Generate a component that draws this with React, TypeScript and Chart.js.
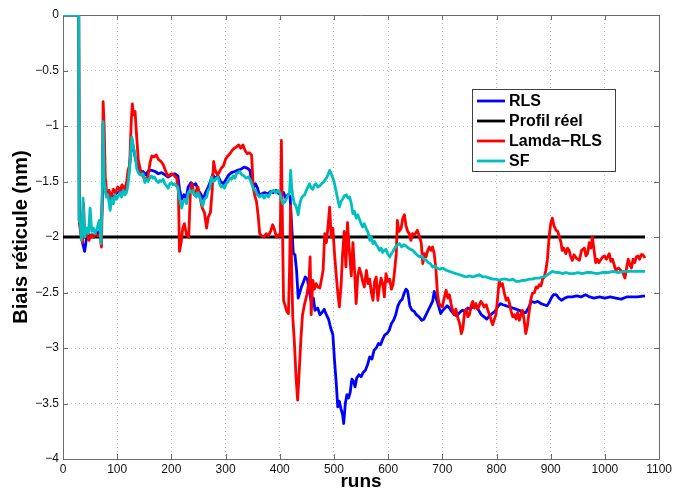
import React, { useEffect, useRef } from 'react';
import { Chart, registerables } from 'chart.js';

Chart.register(...registerables);

// ---- Data ----
const seriesLabels = ['RLS', 'Profil réel', 'Lamda\u2212RLS', 'SF'];
const seriesColors = ['#0000ff', '#000000', '#ff0000', '#00bfbf'];

const xTickValues = [0, 100, 200, 300, 400, 500, 600, 700, 800, 900, 1000, 1100];
const yTickValues = [0, -0.5, -1, -1.5, -2, -2.5, -3, -3.5, -4];

const rlsRuns = [
  0, 29, 30, 33, 36, 40, 43, 46, 50, 54, 58, 62, 66, 70, 73, 74, 76, 80, 84, 87, 90, 94, 98, 103, 108, 113, 118, 121, 124, 127,
  130, 133, 137, 142, 148, 153, 158, 164, 170, 176, 182, 188, 194, 200, 206, 212, 215, 219, 223, 227, 231, 236, 240, 245, 250,
  255, 259, 263, 268, 272, 276, 281, 286, 291, 296, 301, 306, 311, 317, 322, 328, 334, 340, 345, 348, 352, 355, 359, 362, 367,
  372, 378, 383, 388, 393, 398, 403, 407, 411, 415, 419, 422, 425, 428, 431, 434, 437, 440, 444, 447, 451, 455, 458, 462, 465,
  470, 474, 478, 482, 486, 490, 494, 498, 501, 504, 507, 510, 513, 516, 518, 521, 524, 527, 530, 533, 536, 539, 542, 546, 550,
  554, 558, 562, 566, 570, 574, 578, 582, 586, 590, 594, 598, 602, 606, 610, 614, 618, 622, 626, 630, 633, 636, 640, 644, 648,
  652, 657, 662, 666, 670, 674, 678, 682, 685, 689, 693, 697, 701, 705, 709, 713, 717, 722, 727, 732, 737, 742, 747, 752, 757,
  762, 767, 772, 777, 782, 787, 792, 797, 802, 807, 812, 818, 824, 830, 836, 842, 848, 854, 860, 864, 870, 876, 882, 888, 893,
  897, 901, 905, 910, 915, 920, 926, 932, 940, 948, 956, 964, 972, 980, 990, 1000, 1010, 1020, 1030, 1040, 1050, 1060, 1074,
];
const rlsValues = [
  0, 0, -1.85, -1.95, -2.05, -2.13, -2.02, -1.96, -2.0, -1.98, -2.0, -1.97, -1.95, -2.02, -1.6, -0.98, -1.5, -1.62, -1.6, -1.7,
  -1.62, -1.65, -1.6, -1.6, -1.57, -1.58, -1.52, -1.45, -1.3, -1.12, -1.2, -1.28, -1.36, -1.42, -1.41, -1.44, -1.4, -1.4, -1.41,
  -1.43, -1.42, -1.44, -1.46, -1.44, -1.43, -1.45, -1.57, -1.66, -1.62, -1.65, -1.55, -1.51, -1.53, -1.52, -1.58, -1.62, -1.66,
  -1.6, -1.55, -1.5, -1.44, -1.47, -1.45, -1.5, -1.52, -1.48, -1.44, -1.42, -1.41, -1.4, -1.39, -1.37, -1.38, -1.4, -1.5, -1.55,
  -1.52, -1.56, -1.62, -1.61, -1.6, -1.61, -1.59, -1.6, -1.58, -1.61, -1.62, -1.6, -1.65, -1.62, -1.63, -1.9, -2.15, -2.16, -2.3,
  -2.55, -2.5, -2.45, -2.4, -2.36, -2.38, -2.5, -2.58, -2.55, -2.66, -2.64, -2.7, -2.68, -2.65, -2.7, -2.74, -2.82, -2.88, -3.11,
  -3.3, -3.53, -3.48, -3.55, -3.6, -3.68, -3.5, -3.42, -3.45, -3.4, -3.28, -3.3, -3.35, -3.27, -3.24, -3.26, -3.22, -3.2, -3.15,
  -3.08, -3.1, -3.02, -3.0, -2.96, -2.97, -2.92, -2.88, -2.87, -2.84, -2.78, -2.75, -2.7, -2.62, -2.58, -2.56, -2.5, -2.47, -2.49,
  -2.62, -2.66, -2.67, -2.7, -2.72, -2.75, -2.74, -2.7, -2.66, -2.62, -2.58, -2.49, -2.56, -2.62, -2.69, -2.66, -2.64, -2.62,
  -2.64, -2.67, -2.7, -2.71, -2.68, -2.66, -2.67, -2.64, -2.65, -2.62, -2.62, -2.66, -2.7, -2.72, -2.74, -2.71, -2.69, -2.67,
  -2.63, -2.6, -2.61, -2.62, -2.63, -2.64, -2.65, -2.66, -2.68, -2.68, -2.63, -2.58, -2.59, -2.58, -2.6, -2.61, -2.62, -2.59,
  -2.55, -2.52, -2.52, -2.55, -2.57, -2.55, -2.54, -2.54, -2.53, -2.54, -2.52, -2.54, -2.55, -2.54, -2.55, -2.54, -2.55, -2.56,
  -2.54, -2.54, -2.54, -2.53,
];

const profilRuns = [0, 1074];
const profilValues = [-2, -2];

const lamdaRuns = [
  0, 29, 30, 33, 36, 38, 40, 44, 48, 52, 56, 60, 64, 68, 71, 73, 74, 76, 78, 81, 85, 89, 93, 97, 101, 105, 109, 113, 117, 120,
  123, 126, 128, 130, 133, 136, 139, 143, 148, 153, 157, 161, 164, 168, 172, 176, 181, 185, 189, 193, 197, 201, 206, 210, 213,
  215, 218, 221, 224, 228, 232, 235, 238, 242, 246, 249, 253, 257, 261, 265, 268, 272, 275, 278, 281, 285, 288, 292, 296, 300,
  304, 308, 312, 316, 320, 324, 328, 332, 336, 340, 344, 348, 351, 354, 357, 360, 363, 367, 371, 375, 379, 383, 387, 390, 394,
  398, 401, 403, 405, 407, 410, 413, 416, 418, 420, 422, 424, 427, 430, 433, 436, 439, 442, 446, 450, 454, 456, 458, 461, 464,
  467, 470, 474, 477, 480, 483, 486, 489, 492, 495, 498, 501, 504, 507, 510, 513, 516, 519, 522, 525, 528, 532, 535, 538, 541,
  544, 547, 550, 553, 556, 560, 563, 566, 569, 572, 575, 578, 581, 584, 587, 590, 593, 596, 599, 603, 606, 609, 612, 615, 617,
  620, 624, 627, 630, 633, 636, 639, 642, 645, 649, 654, 658, 661, 664, 667, 670, 673, 676, 679, 682, 685, 688, 691, 694, 697,
  700, 703, 707, 710, 713, 716, 719, 722, 725, 728, 732, 735, 738, 741, 744, 747, 750, 753, 756, 759, 762, 765, 768, 771, 774,
  777, 781, 784, 787, 790, 793, 796, 799, 802, 805, 808, 811, 814, 818, 821, 824, 827, 830, 833, 836, 839, 842, 845, 848, 851,
  854, 857, 860, 863, 866, 870, 873, 876, 879, 882, 885, 888, 891, 894, 897, 900, 903, 906, 910, 913, 916, 919, 921, 924, 928,
  931, 934, 937, 940, 943, 947, 950, 953, 957, 962, 965, 968, 971, 974, 977, 980, 983, 986, 989, 993, 996, 999, 1003, 1008,
  1011, 1014, 1017, 1020, 1025, 1029, 1033, 1037, 1040, 1043, 1046, 1049, 1052, 1055, 1058, 1061, 1064, 1067, 1070, 1074,
];
const lamdaValues = [
  0, 0, -1.85, -1.98, -2.05, -1.7, -2.0, -1.98, -2.03, -1.98, -2.0, -1.97, -1.99, -1.98, -2.09, -1.5, -0.78, -1.0, -1.46, -1.62,
  -1.58, -1.64, -1.57, -1.6, -1.55, -1.58, -1.53, -1.57, -1.52, -1.4, -1.35, -0.95, -0.8, -0.9, -0.87, -1.1, -1.31, -1.4, -1.46,
  -1.48, -1.45, -1.32, -1.27, -1.28, -1.26, -1.3, -1.32, -1.35, -1.4, -1.45, -1.44, -1.43, -1.45, -1.47, -1.6, -2.13, -2.05,
  -1.92, -1.88, -1.98, -2.0, -1.6, -1.52, -1.62, -1.58, -1.55, -1.65, -1.74, -1.78, -1.92, -1.82, -1.78, -1.6, -1.32, -1.4,
  -1.44, -1.42, -1.38, -1.36, -1.3, -1.27, -1.25, -1.22, -1.2, -1.19, -1.17, -1.2, -1.17, -1.22, -1.25, -1.24, -1.26, -1.55,
  -1.63, -1.68, -1.8, -1.97, -1.99, -2.0, -1.97, -1.99, -1.95, -1.89, -1.93, -2.0, -1.98, -1.99, -1.13, -1.9, -2.57, -2.62,
  -2.67, -2.69, -2.3, -1.72, -2.3, -2.72, -2.95, -3.26, -3.47, -3.2, -2.92, -2.7, -2.6, -2.52, -2.4, -2.18, -2.7, -2.39, -2.47,
  -2.42, -2.45, -2.46, -2.38, -2.3, -1.97, -2.05, -1.91, -1.73, -2.0, -1.92, -2.15, -2.33, -2.5, -2.63, -2.45, -2.15, -1.95,
  -2.27, -1.87, -2.1, -2.35, -2.05, -2.3, -2.6, -2.35, -2.28, -2.33, -2.4, -2.45, -2.3, -2.42, -2.38, -2.5, -2.57, -2.4, -2.36,
  -2.57, -2.45, -2.37, -2.42, -2.54, -2.33, -2.4, -2.38, -2.47, -2.43, -2.3, -2.15, -1.85, -1.95, -1.92, -1.83, -1.8, -1.9,
  -1.95, -1.97, -2.03, -1.97, -1.98, -1.94, -2.0, -2.05, -2.24, -2.15, -2.18, -2.12, -2.09, -2.12, -2.09, -2.15, -2.28, -2.51,
  -2.6, -2.62, -2.63, -2.56, -2.48, -2.55, -2.52, -2.6, -2.66, -2.7, -2.65, -2.72, -2.78, -2.87, -2.82, -2.68, -2.65, -2.72,
  -2.7, -2.62, -2.58, -2.64, -2.6, -2.65, -2.62, -2.58, -2.6, -2.63, -2.61, -2.66, -2.7, -2.75, -2.79, -2.74, -2.7, -2.55,
  -2.39, -2.44, -2.42, -2.5, -2.57, -2.55, -2.6, -2.67, -2.72, -2.7, -2.74, -2.68, -2.75, -2.7, -2.66, -2.75, -2.87, -2.8,
  -2.68, -2.57, -2.51, -2.5, -2.45, -2.46, -2.43, -2.44, -2.38, -2.36, -2.3, -2.2, -2.0, -1.88, -1.83, -1.9, -1.94, -1.95, -2.0,
  -2.05, -2.12, -2.1, -2.15, -2.1, -2.12, -2.18, -2.21, -2.16, -2.19, -2.2, -2.21, -2.12, -2.1, -2.17, -2.15, -2.05, -2.1, -2.0,
  -2.12, -2.23, -2.2, -2.23, -2.2, -2.18, -2.17, -2.2, -2.15, -2.22, -2.2, -2.25, -2.3, -2.28, -2.3, -2.32, -2.37, -2.28, -2.2,
  -2.25, -2.28, -2.2, -2.23, -2.18, -2.17, -2.2, -2.16, -2.16, -2.19,
];

const sfRuns = [
  0, 29, 30, 32, 34, 37, 40, 44, 47, 50, 53, 56, 59, 63, 67, 70, 72, 74, 76, 80, 83, 87, 90, 93, 96, 99, 102, 105, 108, 111, 114,
  117, 120, 123, 127, 130, 133, 136, 139, 142, 148, 151, 154, 157, 160, 163, 166, 169, 172, 176, 179, 182, 185, 188, 191, 194,
  197, 200, 203, 206, 209, 212, 215, 219, 222, 225, 228, 231, 234, 237, 240, 243, 246, 249, 252, 255, 258, 261, 265, 268, 271,
  274, 277, 280, 283, 286, 289, 292, 295, 298, 301, 305, 308, 311, 314, 317, 320, 323, 326, 330, 334, 338, 342, 345, 348, 351,
  355, 359, 363, 367, 371, 375, 379, 383, 388, 393, 397, 400, 403, 406, 410, 413, 416, 418, 420, 422, 424, 427, 430, 434, 437,
  440, 443, 446, 449, 452, 455, 458, 461, 464, 467, 470, 474, 477, 480, 483, 486, 489, 492, 495, 498, 501, 504, 507, 510, 513,
  516, 519, 523, 526, 529, 532, 535, 538, 541, 544, 547, 550, 553, 556, 560, 563, 566, 569, 572, 575, 578, 581, 584, 587, 590,
  593, 596, 599, 603, 606, 609, 612, 615, 618, 621, 625, 629, 633, 637, 641, 645, 649, 653, 658, 662, 666, 670, 674, 678, 682,
  686, 690, 695, 700, 707, 713, 719, 725, 732, 738, 744, 750, 756, 762, 768, 775, 781, 787, 793, 799, 805, 811, 818, 824, 830,
  836, 842, 848, 854, 860, 866, 872, 879, 885, 891, 897, 903, 910, 916, 922, 928, 935, 942, 950, 958, 966, 975, 985, 995, 1005,
  1015, 1025, 1035, 1045, 1055, 1065, 1074,
];
const sfValues = [
  0, 0, -1.85, -1.88, -2.03, -1.65, -2.0, -1.92, -1.97, -1.74, -1.95, -1.92, -1.97, -1.92, -1.85, -2.06, -1.7, -0.96, -1.5,
  -1.64, -1.62, -1.76, -1.65, -1.7, -1.62, -1.66, -1.63, -1.6, -1.64, -1.58, -1.62, -1.6, -1.53, -1.37, -1.1, -1.19, -1.26,
  -1.38, -1.42, -1.44, -1.43, -1.51, -1.48, -1.5, -1.47, -1.45, -1.47, -1.46, -1.49, -1.51, -1.49, -1.5, -1.48, -1.52, -1.54,
  -1.56, -1.52, -1.51, -1.53, -1.52, -1.54, -1.55, -1.65, -1.74, -1.68, -1.66, -1.7, -1.6, -1.58, -1.6, -1.58, -1.62, -1.64,
  -1.6, -1.63, -1.68, -1.72, -1.66, -1.64, -1.58, -1.56, -1.46, -1.5, -1.49, -1.47, -1.46, -1.52, -1.55, -1.54, -1.56, -1.52,
  -1.5, -1.47, -1.48, -1.45, -1.47, -1.43, -1.42, -1.41, -1.44, -1.45, -1.47, -1.46, -1.48, -1.52, -1.56, -1.58, -1.62, -1.64,
  -1.62, -1.65, -1.62, -1.64, -1.6, -1.58, -1.6, -1.58, -1.6, -1.66, -1.7, -1.68, -1.65, -1.62, -1.6, -1.4, -1.55, -1.63, -1.7,
  -1.72, -1.8, -1.7, -1.65, -1.63, -1.62, -1.58, -1.55, -1.52, -1.56, -1.57, -1.53, -1.52, -1.55, -1.54, -1.52, -1.51, -1.49,
  -1.47, -1.44, -1.4, -1.43, -1.47, -1.52, -1.59, -1.66, -1.73, -1.68, -1.66, -1.63, -1.62, -1.65, -1.64, -1.7, -1.79, -1.77,
  -1.83, -1.8, -1.84, -1.88, -1.91, -1.88, -1.93, -1.96, -2.03, -2.0, -2.06, -2.04, -2.07, -2.09, -2.12, -2.1, -2.14, -2.12,
  -2.11, -2.15, -2.18, -2.15, -2.13, -2.1, -2.08, -2.07, -2.06, -2.09, -2.07, -2.08, -2.1, -2.11, -2.12, -2.14, -2.16, -2.18,
  -2.17, -2.2, -2.21, -2.23, -2.24, -2.27, -2.26, -2.28, -2.29, -2.28, -2.3, -2.31, -2.32, -2.33, -2.34, -2.35, -2.36, -2.35,
  -2.36, -2.35, -2.34, -2.36, -2.36, -2.37, -2.38, -2.38, -2.39, -2.38, -2.38, -2.39, -2.38, -2.4, -2.4, -2.39, -2.39, -2.38,
  -2.38, -2.37, -2.37, -2.36, -2.35, -2.33, -2.31, -2.32, -2.32, -2.33, -2.32, -2.33, -2.33, -2.32, -2.33, -2.32, -2.32, -2.33,
  -2.32, -2.32, -2.31, -2.32, -2.31, -2.31, -2.31, -2.31, -2.31,
];

const FONT = "'Liberation Sans', Arial, Helvetica, sans-serif";

function toPoints(xs: number[], ys: number[]) {
  return xs.map((x, i) => ({ x, y: ys[i] }));
}

const matlabPlugin = {
  id: 'matlabFrame',
  beforeDatasetsDraw(chart: any) {
    const { ctx, chartArea, scales } = chart;
    const { left, right, top, bottom } = chartArea;
    ctx.save();
    ctx.strokeStyle = '#6a6a6a';
    ctx.lineWidth = 1;
    ctx.beginPath();
    ctx.rect(Math.round(left) + 0.5, Math.round(top) + 0.5, Math.round(right - left), Math.round(bottom - top));
    ctx.stroke();
    const tl = 5;
    ctx.beginPath();
    for (const v of xTickValues) {
      const x = Math.round(scales.x.getPixelForValue(v)) + 0.5;
      ctx.moveTo(x, bottom);
      ctx.lineTo(x, bottom - tl);
      ctx.moveTo(x, top);
      ctx.lineTo(x, top + tl);
    }
    for (const v of yTickValues) {
      const y = Math.round(scales.y.getPixelForValue(v)) + 0.5;
      ctx.moveTo(left, y);
      ctx.lineTo(left + tl, y);
      ctx.moveTo(right, y);
      ctx.lineTo(right - tl, y);
    }
    ctx.stroke();
    ctx.restore();
  },
  afterDraw(chart: any) {
    const { ctx } = chart;
    const lx = 472, ly = 89, lw = 143, lh = 82;
    ctx.save();
    ctx.fillStyle = '#ffffff';
    ctx.fillRect(lx, ly, lw, lh);
    ctx.strokeStyle = '#404040';
    ctx.lineWidth = 1;
    ctx.strokeRect(lx + 0.5, ly + 0.5, lw, lh);
    ctx.font = `bold 16px ${FONT}`;
    ctx.textBaseline = 'middle';
    ctx.textAlign = 'left';
    seriesLabels.forEach((label, i) => {
      const y = ly + 12 + i * 20;
      ctx.strokeStyle = seriesColors[i];
      ctx.lineWidth = 2.8;
      ctx.beginPath();
      ctx.moveTo(477, y);
      ctx.lineTo(505, y);
      ctx.stroke();
      ctx.fillStyle = '#000000';
      ctx.fillText(label, 509, y + 0.5);
    });
    ctx.restore();
  },
};

export default function App() {
  const canvasRef = useRef<HTMLCanvasElement | null>(null);

  useEffect(() => {
    document.body.style.margin = '0';
    const canvas = canvasRef.current;
    if (!canvas) return;
    const seriesData = [
      toPoints(rlsRuns, rlsValues),
      toPoints(profilRuns, profilValues),
      toPoints(lamdaRuns, lamdaValues),
      toPoints(sfRuns, sfValues),
    ];
    const orders = [4, 3, 2, 1];
    const chart = new Chart(canvas, {
      type: 'line',
      data: {
        datasets: seriesLabels.map((label, i) => ({
          label,
          data: seriesData[i],
          borderColor: seriesColors[i],
          backgroundColor: seriesColors[i],
          borderWidth: 2.8,
          pointRadius: 0,
          tension: 0,
          fill: false,
          order: orders[i],
          borderJoinStyle: 'round' as const,
        })),
      },
      options: {
        responsive: false,
        animation: false,
        layout: { padding: { top: 15, right: 15, left: 0, bottom: 0 } },
        plugins: {
          legend: { display: false },
          tooltip: { enabled: false },
        },
        scales: {
          x: {
            type: 'linear',
            min: 0,
            max: 1100,
            afterBuildTicks: (scale: any) => {
              scale.ticks = xTickValues.map((v) => ({ value: v }));
            },
            afterFit: (scale: any) => {
              scale.height = 35;
            },
            grid: { color: '#c0c0c0', lineWidth: 1, drawTicks: false },
            border: { display: false, dash: [1, 3] },
            ticks: {
              color: '#111',
              font: { family: FONT, size: 12 },
              padding: 3,
              maxRotation: 0,
              callback: (v: any) => String(v),
            },
            title: {
              display: true,
              text: 'runs',
              color: '#000',
              font: { family: FONT, size: 19, weight: 'bold' },
              padding: { top: 0, bottom: 1 },
            },
          },
          y: {
            type: 'linear',
            min: -4,
            max: 0,
            afterBuildTicks: (scale: any) => {
              scale.ticks = yTickValues.map((v) => ({ value: v }));
            },
            afterFit: (scale: any) => {
              scale.width = 63;
            },
            grid: { color: '#c0c0c0', lineWidth: 1, drawTicks: false },
            border: { display: false, dash: [1, 3] },
            ticks: {
              color: '#111',
              font: { family: FONT, size: 12 },
              padding: 4,
              callback: (v: any) => (v === 0 ? '0' : '\u2212' + String(Math.abs(v))),
            },
            title: {
              display: true,
              text: 'Biais réticule (nm)',
              color: '#000',
              font: { family: FONT, size: 20, weight: 'bold' },
              padding: { top: 9, bottom: 0 },
            },
          },
        },
      },
      plugins: [matlabPlugin],
    });
    return () => chart.destroy();
  }, []);

  return (
    <div style={{ position: 'absolute', left: 0, top: 0, width: 675, height: 494, background: '#fff' }}>
      <canvas ref={canvasRef} width={675} height={494} style={{ display: 'block' }} />
    </div>
  );
}
